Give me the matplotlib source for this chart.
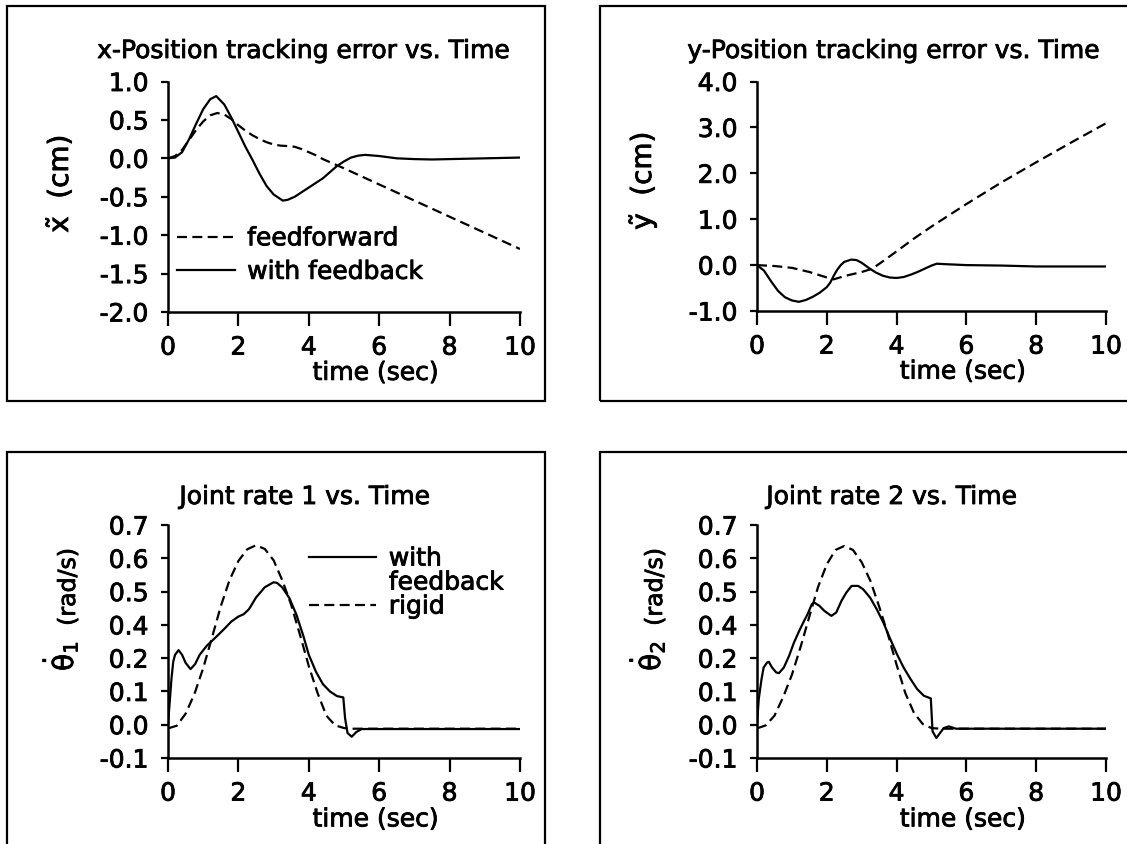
import matplotlib
matplotlib.use('Agg')
import matplotlib.pyplot as plt
import matplotlib.patheffects as pe
from matplotlib.lines import Line2D
from matplotlib.patches import Rectangle
from matplotlib.text import Text

plt.rcParams['axes.unicode_minus'] = False
plt.rcParams['mathtext.fontset'] = 'dejavusans'

W, H = 1127, 845
FS = 18
DASH = (0, (4.5, 2.4))

# ---- x-position tracking error (cm) ----
t_x_fb = [0, 0.2, 0.4, 0.6, 0.8, 1.0, 1.2, 1.37, 1.6, 1.8, 2.0, 2.2, 2.4, 2.6, 2.8,
          3.0, 3.26, 3.4, 3.6, 3.8, 4.0, 4.2, 4.4, 4.6, 4.8, 5.0, 5.2, 5.4, 5.6,
          6.0, 6.5, 7.0, 7.5, 8.0, 9.0, 10.0]
x_fb = [0, 0.01, 0.08, 0.25, 0.45, 0.64, 0.77, 0.81, 0.70, 0.53, 0.34, 0.15, -0.02,
        -0.20, -0.36, -0.47, -0.55, -0.54, -0.50, -0.44, -0.38, -0.32, -0.26, -0.18,
        -0.10, -0.04, 0.01, 0.035, 0.045, 0.03, 0.0, -0.01, -0.015, -0.01, 0.0, 0.01]
t_x_ff = [0, 0.2, 0.4, 0.6, 0.8, 1.0, 1.2, 1.4, 1.6, 1.8, 2.0, 2.2, 2.4, 2.6, 2.8,
          3.0, 3.2, 3.4, 3.6, 3.8, 4.0, 4.2, 4.4, 4.6, 4.8, 5.0, 6.0, 7.0, 8.0, 9.0, 10.0]
x_ff = [0, 0.03, 0.11, 0.24, 0.37, 0.48, 0.56, 0.59, 0.57, 0.51, 0.43, 0.36, 0.30,
        0.25, 0.21, 0.18, 0.165, 0.16, 0.15, 0.12, 0.08, 0.04, -0.01, -0.05, -0.09,
        -0.13, -0.34, -0.55, -0.76, -0.97, -1.18]

# ---- y-position tracking error (cm) ----
t_y_fb = [0, 0.2, 0.4, 0.6, 0.8, 1.0, 1.2, 1.4, 1.6, 1.8, 2.0, 2.1, 2.2, 2.3, 2.4,
          2.5, 2.7, 2.85, 3.0, 3.2, 3.4, 3.6, 3.8, 4.0, 4.2, 4.4, 4.6, 4.8, 5.0,
          5.15, 5.4, 6.0, 7.0, 8.0, 9.0, 10.0]
y_fb = [0, -0.12, -0.35, -0.56, -0.70, -0.77, -0.80, -0.76, -0.69, -0.60, -0.48,
        -0.38, -0.23, -0.10, 0.0, 0.07, 0.12, 0.11, 0.05, -0.06, -0.16, -0.23, -0.27,
        -0.28, -0.26, -0.21, -0.15, -0.08, -0.01, 0.03, 0.02, 0.0, -0.01, -0.03,
        -0.03, -0.03]
t_y_ff = [0, 0.5, 1.0, 1.5, 2.0, 2.2, 2.5, 3.0, 3.3, 3.6, 4.0, 4.5, 5.0, 6.0, 7.0,
          8.0, 9.0, 10.0]
y_ff = [0, -0.02, -0.06, -0.15, -0.27, -0.31, -0.24, -0.15, -0.08, 0.08, 0.30, 0.58,
        0.84, 1.33, 1.80, 2.24, 2.67, 3.09]

# ---- joint rates: values on the plotted scale (the printed axis skips 0.3) ----
rate_ticks = [-0.1, 0.0, 0.1, 0.2, 0.3, 0.4, 0.5, 0.6]
rate_tick_labels = ['-0.1', '0.0', '0.1', '0.2', '0.4', '0.5', '0.6', '0.7']

t_rigid1 = [0, 0.25, 0.5, 0.75, 1.0, 1.25, 1.5, 1.75, 2.0, 2.25, 2.5, 2.75, 3.0,
            3.25, 3.5, 3.75, 4.0, 4.25, 4.5, 4.75, 5.0, 5.25, 10.0]
rigid1 = [-0.011, -0.003, 0.033, 0.092, 0.170, 0.262, 0.356, 0.435, 0.492, 0.527,
          0.539, 0.528, 0.494, 0.433, 0.360, 0.270, 0.176, 0.095, 0.027, -0.002,
          -0.010, -0.012, -0.012]
t_rate1 = [0, 0.05, 0.1, 0.15, 0.2, 0.3, 0.4, 0.5, 0.64, 0.77, 0.9, 1.1, 1.35, 1.6,
           1.8, 2.0, 2.15, 2.3, 2.5, 2.75, 3.0, 3.1, 3.25, 3.45, 3.65, 3.85, 4.0,
           4.2, 4.4, 4.6, 4.8, 4.98, 5.03, 5.1, 5.22, 5.35, 5.5, 10.0]
rate1 = [0.0, 0.07, 0.14, 0.19, 0.21, 0.224, 0.21, 0.186, 0.167, 0.182, 0.21, 0.237,
         0.262, 0.288, 0.31, 0.325, 0.332, 0.347, 0.382, 0.413, 0.428, 0.426, 0.412,
         0.38, 0.33, 0.265, 0.21, 0.16, 0.122, 0.10, 0.086, 0.082, 0.02, -0.025,
         -0.036, -0.022, -0.013, -0.013]

t_rigid2 = [0, 0.25, 0.5, 0.75, 1.0, 1.25, 1.5, 1.75, 2.0, 2.25, 2.5, 2.75, 3.0,
            3.25, 3.5, 3.75, 4.0, 4.25, 4.5, 4.75, 5.0, 5.25, 10.0]
rigid2 = [-0.011, -0.002, 0.027, 0.083, 0.150, 0.234, 0.325, 0.414, 0.482, 0.525,
          0.537, 0.525, 0.488, 0.432, 0.355, 0.272, 0.180, 0.095, 0.035, 0.002,
          -0.010, -0.012, -0.012]
t_rate2 = [0, 0.05, 0.13, 0.19, 0.29, 0.34, 0.43, 0.55, 0.63, 0.77, 0.92, 1.06, 1.21,
           1.35, 1.45, 1.57, 1.64, 1.79, 1.93, 2.13, 2.27, 2.42, 2.56, 2.71, 2.9,
           3.04, 3.24, 3.43, 3.62, 3.82, 4.01, 4.2, 4.4, 4.59, 4.78, 4.98, 5.03,
           5.14, 5.35, 5.5, 5.7, 10.0]
rate2 = [0.0, 0.077, 0.137, 0.172, 0.187, 0.189, 0.172, 0.157, 0.155, 0.172, 0.207,
         0.247, 0.282, 0.312, 0.332, 0.362, 0.367, 0.357, 0.342, 0.327, 0.337, 0.372,
         0.397, 0.417, 0.417, 0.407, 0.382, 0.347, 0.307, 0.257, 0.212, 0.172, 0.137,
         0.107, 0.087, 0.079, -0.02, -0.04, -0.01, -0.005, -0.012, -0.012]

time_ticks = [0, 2, 4, 6, 8, 10]


def px_axes(fig, left, right, top, bottom):
    return fig.add_axes([left / W, 1 - bottom / H, (right - left) / W, (bottom - top) / H])


def style_axes(ax):
    ax.spines['top'].set_visible(False)
    ax.spines['right'].set_visible(False)
    ax.spines['left'].set_linewidth(1.8)
    ax.spines['bottom'].set_linewidth(1.8)
    ax.set_xlim(0, 10)
    ax.set_xticks(time_ticks)
    ax.tick_params(axis='x', direction='out', length=10, width=1.6, pad=7, labelsize=FS)
    ax.tick_params(axis='y', direction='out', length=5, width=1.6, pad=9, labelsize=FS)
    ax.set_xlabel('time (sec)', fontsize=FS)
    ax.xaxis.set_label_coords(0.59, -0.212)


def box(fig, x0, y0, x1, y1):
    fig.add_artist(Rectangle((x0 / W, 1 - y1 / H), (x1 - x0) / W, (y1 - y0) / H,
                             transform=fig.transFigure, fill=False, lw=1.6, color='black'))


fig = plt.figure(figsize=(W / 100, H / 100), dpi=100)

box(fig, 7, 7, 545, 402)
box(fig, 600, 7, 1140, 402)
box(fig, 7, 453, 545, 860)
box(fig, 600, 453, 1140, 860)

# x-position
ax1 = px_axes(fig, 168, 520, 82.5, 313)
style_axes(ax1)
ff1, = ax1.plot(t_x_ff, x_ff, color='black', lw=1.6, linestyle=DASH)
fb1, = ax1.plot(t_x_fb, x_fb, color='black', lw=1.6)
ax1.set_ylim(-2.0, 1.0)
ax1.set_yticks([-2.0, -1.5, -1.0, -0.5, 0.0, 0.5, 1.0])
ax1.set_yticklabels(['%.1f' % v for v in ax1.get_yticks()])
ax1.legend([ff1, fb1], ['feedforward', 'with feedback'], loc='center left',
           bbox_to_anchor=(0.026, 0.247), frameon=False, fontsize=FS, handlelength=2.3,
           handletextpad=0.5, labelspacing=0.38, borderpad=0, borderaxespad=0)
fig.text(304 / W, 1 - 52 / H, 'x-Position tracking error vs. Time', ha='center',
         va='center', fontsize=18)
fig.text(74 / W, 1 - 185 / H, r'$\tilde{\mathrm{x}}$  (cm)', rotation=90, ha='right',
         va='center', fontsize=20)

# y-position
ax2 = px_axes(fig, 757, 1106, 82.5, 312)
style_axes(ax2)
ax2.plot(t_y_ff, y_ff, color='black', lw=1.6, linestyle=DASH)
ax2.plot(t_y_fb, y_fb, color='black', lw=1.6)
ax2.set_ylim(-1.0, 4.0)
ax2.set_yticks([-1.0, 0.0, 1.0, 2.0, 3.0, 4.0])
ax2.set_yticklabels(['%.1f' % v for v in ax2.get_yticks()])
fig.text(894 / W, 1 - 52 / H, 'y-Position tracking error vs. Time', ha='center',
         va='center', fontsize=18)
fig.text(659 / W, 1 - 182 / H, r'$\tilde{\mathrm{y}}$  (cm)', rotation=90, ha='right',
         va='center', fontsize=20)

# joint rate 1
ax3 = px_axes(fig, 168, 520, 526, 759)
style_axes(ax3)
fb3, = ax3.plot(t_rate1, rate1, color='black', lw=1.6)
rg3, = ax3.plot(t_rigid1, rigid1, color='black', lw=1.6, linestyle=DASH)
ax3.set_ylim(-0.1, 0.6)
ax3.set_yticks(rate_ticks)
ax3.set_yticklabels(rate_tick_labels)
blank = Line2D([], [], linestyle='none')
ax3.legend([fb3, blank, rg3], ['with', 'feedback', 'rigid'], loc='center left',
           bbox_to_anchor=(0.40, 0.753), frameon=False, fontsize=FS, handlelength=2.7,
           handletextpad=0.5, labelspacing=0.0, borderpad=0, borderaxespad=0)
fig.text(305 / W, 1 - 498 / H, 'Joint rate 1 vs. Time', ha='center', va='center',
         fontsize=18)
fig.text(80 / W, 1 - 657 / H, r'$\dot{\mathrm{\theta}}_1$', rotation=90, ha='right',
         va='center', fontsize=20)
fig.text(80 / W, 1 - 588 / H, '(rad/s)', rotation=90, ha='right', va='center',
         fontsize=17)

# joint rate 2
ax4 = px_axes(fig, 757, 1106, 526, 759)
style_axes(ax4)
ax4.plot(t_rate2, rate2, color='black', lw=1.6)
ax4.plot(t_rigid2, rigid2, color='black', lw=1.6, linestyle=DASH)
ax4.set_ylim(-0.1, 0.6)
ax4.set_yticks(rate_ticks)
ax4.set_yticklabels(rate_tick_labels)
fig.text(892 / W, 1 - 498 / H, 'Joint rate 2 vs. Time', ha='center', va='center',
         fontsize=18)
fig.text(667 / W, 1 - 657 / H, r'$\dot{\mathrm{\theta}}_2$', rotation=90, ha='right',
         va='center', fontsize=20)
fig.text(667 / W, 1 - 588 / H, '(rad/s)', rotation=90, ha='right', va='center',
         fontsize=17)

# the scanned original has heavy type; thicken glyphs a little
for t in fig.findobj(Text):
    t.set_path_effects([pe.withStroke(linewidth=0.6, foreground='black')])

fig.savefig('out.png', dpi=100)
